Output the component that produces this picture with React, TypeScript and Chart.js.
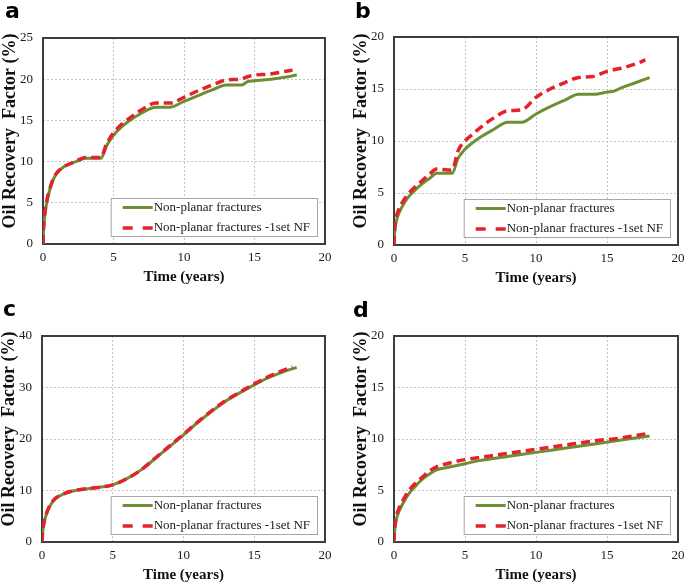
import React, { useEffect, useRef } from "react";
import { Chart, registerables } from "chart.js";

Chart.register(...registerables);

// ---------- data ----------
const SERIES_NAMES = ["Non-planar fractures", "Non-planar fractures -1set NF"];
const X_TICKS = [0, 5, 10, 15, 20];
const X_TITLE = "Time (years)";
const Y_TITLE = "Oil Recovery  Factor (%)";
const PANEL_LABELS = ["a", "b", "c", "d"];
const Y_MAXES = [25, 20, 40, 20];
const Y_STEPS = [5, 5, 10, 5];

// panel a
const timeAGreen = [0, 0.05, 0.15, 0.3, 0.5, 0.75, 1, 1.5, 2, 2.5, 3, 4.1, 4.5, 5, 5.5, 6, 7, 8, 9, 10, 11, 12, 13, 14.1, 14.5, 15, 16, 17, 18];
const recAGreen = [0, 2.0, 3.8, 5.3, 6.7, 7.9, 8.6, 9.4, 9.8, 10.1, 10.4, 10.4, 11.9, 13.2, 14.1, 14.8, 15.9, 16.6, 16.6, 17.3, 18.0, 18.7, 19.3, 19.3, 19.7, 19.8, 19.95, 20.2, 20.5];
const timeARed = [0, 0.05, 0.15, 0.3, 0.5, 0.75, 1, 1.5, 2, 2.5, 3, 4.1, 4.5, 5, 5.5, 6, 7, 8, 9, 10, 11, 12, 13, 14, 14.5, 15, 16, 17, 17.7];
const recARed = [0, 2.2, 4.0, 5.5, 6.8, 8.0, 8.7, 9.4, 9.8, 10.2, 10.5, 10.5, 12.1, 13.5, 14.4, 15.1, 16.3, 17.1, 17.1, 17.8, 18.6, 19.3, 19.9, 20.0, 20.3, 20.5, 20.6, 20.9, 21.1];

// panel b
const timeBGreen = [0, 0.05, 0.15, 0.3, 0.5, 1, 1.5, 2, 2.5, 3, 4.1, 4.5, 5, 5.5, 6, 7, 8, 9, 10, 11, 12, 13, 14.1, 15, 15.5, 16, 17, 18];
const recBGreen = [0, 1.2, 2.2, 2.9, 3.5, 4.6, 5.3, 5.9, 6.4, 6.9, 6.9, 8.3, 9.2, 9.8, 10.3, 11.1, 11.8, 11.8, 12.6, 13.3, 13.9, 14.5, 14.5, 14.7, 14.8, 15.1, 15.6, 16.1];
const timeBRed = [0, 0.05, 0.15, 0.3, 0.5, 1, 1.5, 2, 2.5, 3, 4, 4.2, 4.5, 5, 5.5, 6, 7, 8, 9, 10, 11, 12, 13, 14, 15, 16, 17, 17.7];
const recBRed = [0, 1.6, 2.6, 3.3, 3.9, 4.9, 5.6, 6.2, 6.8, 7.3, 7.2, 7.5, 9.0, 10.0, 10.6, 11.2, 12.2, 12.9, 13.0, 14.2, 15.0, 15.6, 16.1, 16.2, 16.7, 17.0, 17.4, 17.8];

// panel c
const timeCGreen = [0, 0.05, 0.15, 0.3, 0.5, 0.75, 1, 1.5, 2, 3, 4, 5, 6, 7, 8, 9, 10, 11, 12, 13, 14, 15, 16, 17, 18];
const recCGreen = [0, 2.0, 3.8, 5.3, 6.7, 7.8, 8.5, 9.3, 9.8, 10.3, 10.6, 11.1, 12.3, 14.0, 16.2, 18.5, 20.8, 23.2, 25.4, 27.4, 29.0, 30.5, 31.9, 33.0, 33.9];
const timeCRed = [0, 0.05, 0.15, 0.3, 0.5, 0.75, 1, 1.5, 2, 3, 4, 5, 6, 7, 8, 9, 10, 11, 12, 13, 14, 15, 16, 17, 17.7];
const recCRed = [0, 2.1, 3.9, 5.4, 6.8, 7.9, 8.6, 9.3, 9.8, 10.3, 10.6, 11.1, 12.3, 14.0, 16.3, 18.6, 20.9, 23.3, 25.5, 27.5, 29.1, 30.7, 32.1, 33.3, 34.0];

// panel d
const timeDGreen = [0, 0.05, 0.15, 0.3, 0.5, 1, 1.5, 2, 2.5, 3, 4, 5, 6, 7, 8, 10, 12, 14, 16, 18];
const recDGreen = [0, 1.1, 2.1, 2.8, 3.4, 4.6, 5.4, 6.1, 6.6, 7.0, 7.3, 7.6, 7.9, 8.1, 8.3, 8.7, 9.1, 9.5, 9.9, 10.3];
const timeDRed = [0, 0.05, 0.15, 0.3, 0.5, 1, 1.5, 2, 2.5, 3, 4, 5, 6, 7, 8, 10, 12, 14, 16, 17.7];
const recDRed = [0, 1.4, 2.4, 3.1, 3.7, 4.9, 5.7, 6.3, 6.9, 7.3, 7.7, 8.0, 8.2, 8.4, 8.6, 9.0, 9.4, 9.8, 10.1, 10.5];

const GREEN_TIMES = [timeAGreen, timeBGreen, timeCGreen, timeDGreen];
const GREEN_VALUES = [recAGreen, recBGreen, recCGreen, recDGreen];
const RED_TIMES = [timeARed, timeBRed, timeCRed, timeDRed];
const RED_VALUES = [recARed, recBRed, recCRed, recDRed];

// ---------- layout / style ----------
const GREEN = "#6c8f34";
const RED = "#e3222b";
const Y_AXIS_W = 42;
const X_AXIS_H = 42;

type Rect = { l: number; t: number; w: number; h: number };
type Plot = { L: number; T: number; R: number; B: number };

const CANVASES: Rect[] = [
  { l: 0, t: 0, w: 342, h: 292 },
  { l: 342, t: 0, w: 370, h: 292 },
  { l: 0, t: 292, w: 342, h: 292 },
  { l: 342, t: 292, w: 370, h: 292 },
];
const PLOTS: Plot[] = [
  { L: 43, T: 38, R: 325, B: 244 },
  { L: 394, T: 37, R: 678, B: 245 },
  { L: 42, T: 336, R: 325, B: 542 },
  { L: 394, T: 336, R: 678, B: 542 },
];
const LABEL_POS = [
  { left: 5, top: 0 },
  { left: 355, top: 0 },
  { left: 3, top: 298 },
  { left: 353, top: 299 },
];

const toXY = (xs: number[], ys: number[]) => xs.map((x, i) => ({ x, y: ys[i] }));

const framePlugin = {
  id: "frameLegend",
  beforeDatasetsDraw(chart: any) {
    const { ctx, chartArea: a } = chart;
    ctx.save();
    ctx.strokeStyle = "#3d3d3d";
    ctx.lineWidth = 2;
    ctx.strokeRect(a.left, a.top, a.right - a.left, a.bottom - a.top);
    ctx.restore();
  },
  afterDatasetsDraw(chart: any) {
    const { ctx, chartArea: a } = chart;
    ctx.save();
    ctx.font = "13px 'Liberation Serif', serif";
    const tw = Math.max(...SERIES_NAMES.map((s) => ctx.measureText(s).width));
    const boxW = 12 + 30 + 1 + tw + 8;
    const boxH = 39;
    const right = a.right - 7;
    const bottom = a.bottom - 7;
    const left = right - boxW;
    const top = bottom - boxH;
    ctx.fillStyle = "#ffffff";
    ctx.fillRect(left, top, boxW, boxH);
    ctx.strokeStyle = "#a6a6a6";
    ctx.lineWidth = 1;
    ctx.strokeRect(left + 0.5, top + 0.5, boxW - 1, boxH - 1);
    const rows = [top + 9.5, top + 30];
    ctx.strokeStyle = GREEN;
    ctx.lineWidth = 3;
    ctx.setLineDash([]);
    ctx.beginPath();
    ctx.moveTo(left + 12, rows[0]);
    ctx.lineTo(left + 42, rows[0]);
    ctx.stroke();
    ctx.strokeStyle = RED;
    ctx.lineWidth = 3.5;
    ctx.setLineDash([10, 10]);
    ctx.beginPath();
    ctx.moveTo(left + 12, rows[1]);
    ctx.lineTo(left + 42, rows[1]);
    ctx.stroke();
    ctx.setLineDash([]);
    ctx.fillStyle = "#1a1a1a";
    ctx.textBaseline = "middle";
    ctx.textAlign = "left";
    ctx.fillText(SERIES_NAMES[0], left + 43, rows[0]);
    ctx.fillText(SERIES_NAMES[1], left + 43, rows[1]);
    ctx.restore();
  },
  afterDraw(chart: any) {
    // y-axis title, placed slightly above the axis centre as in the reference
    const { ctx, chartArea: a } = chart;
    const ys = chart.scales.y;
    ctx.save();
    ctx.translate(ys.left + 9, (a.top + a.bottom) / 2 - 10);
    ctx.rotate(-Math.PI / 2);
    ctx.font = "bold 18px 'Liberation Serif', serif";
    ctx.fillStyle = "#111";
    ctx.textAlign = "center";
    ctx.textBaseline = "middle";
    ctx.fillText(Y_TITLE, 0, 0);
    ctx.restore();
  },
};

function Panel({ idx }: { idx: number }) {
  const ref = useRef<HTMLCanvasElement | null>(null);
  const cv = CANVASES[idx];
  const p = PLOTS[idx];
  useEffect(() => {
    if (!ref.current) return;
    const padding = {
      left: p.L - cv.l - Y_AXIS_W,
      top: p.T - cv.t,
      right: cv.l + cv.w - p.R,
      bottom: cv.t + cv.h - p.B - X_AXIS_H,
    };
    const gridCommon = {
      color: "#c4c4c4",
      lineWidth: 1,
      drawTicks: false,
    };
    const chart = new Chart(ref.current, {
      type: "line",
      data: {
        datasets: [
          {
            label: SERIES_NAMES[1],
            data: toXY(RED_TIMES[idx], RED_VALUES[idx]),
            borderColor: RED,
            borderWidth: 3.5,
            borderDash: [9, 5],
            pointRadius: 0,
            fill: false,
            cubicInterpolationMode: "monotone",
            order: 0,
          },
          {
            label: SERIES_NAMES[0],
            data: toXY(GREEN_TIMES[idx], GREEN_VALUES[idx]),
            borderColor: GREEN,
            borderWidth: 3,
            pointRadius: 0,
            fill: false,
            cubicInterpolationMode: "monotone",
            order: 1,
          },
        ],
      },
      options: {
        animation: false,
        responsive: false,
        maintainAspectRatio: false,
        devicePixelRatio: 1,
        layout: { padding },
        plugins: { legend: { display: false }, tooltip: { enabled: false }, title: { display: false } },
        scales: {
          x: {
            type: "linear",
            min: 0,
            max: 20,
            afterBuildTicks: (scale: any) => {
              scale.ticks = X_TICKS.map((v) => ({ value: v }));
            },
            afterFit: (scale: any) => {
              scale.height = X_AXIS_H;
            },
            grid: gridCommon,
            border: { display: false, dash: [2, 2] },
            ticks: {
              padding: 6,
              color: "#1a1a1a",
              font: { family: "'Liberation Serif', serif", size: 13 },
              maxRotation: 0,
            },
            title: {
              display: true,
              text: X_TITLE,
              color: "#111",
              font: { family: "'Liberation Serif', serif", size: 15, weight: "bold" },
              padding: { top: 0, bottom: 0 },
            },
          },
          y: {
            type: "linear",
            min: 0,
            max: Y_MAXES[idx],
            ticks: {
              stepSize: Y_STEPS[idx],
              padding: 10,
              color: "#1a1a1a",
              font: { family: "'Liberation Serif', serif", size: 13 },
            },
            afterFit: (scale: any) => {
              scale.width = Y_AXIS_W;
            },
            grid: gridCommon,
            border: { display: false, dash: [2, 2] },
            title: { display: false },
          },
        },
      },
      plugins: [framePlugin],
    } as any);
    return () => chart.destroy();
  }, [idx]);
  return (
    <canvas
      ref={ref}
      width={cv.w}
      height={cv.h}
      style={{ position: "absolute", left: cv.l, top: cv.t, width: cv.w, height: cv.h, display: "block" }}
    />
  );
}

export default function App() {
  return (
    <div style={{ position: "absolute", left: 0, top: 0, width: 685, height: 584, background: "#fff", overflow: "hidden" }}>
      {[0, 1, 2, 3].map((i) => (
        <Panel key={i} idx={i} />
      ))}
      {PANEL_LABELS.map((lab, i) => (
        <div
          key={lab}
          style={{
            position: "absolute",
            left: LABEL_POS[i].left,
            top: LABEL_POS[i].top,
            fontFamily: "'DejaVu Sans', sans-serif",
            fontWeight: "bold",
            fontSize: 22,
            lineHeight: 1,
            color: "#000",
          }}
        >
          {lab}
        </div>
      ))}
    </div>
  );
}
